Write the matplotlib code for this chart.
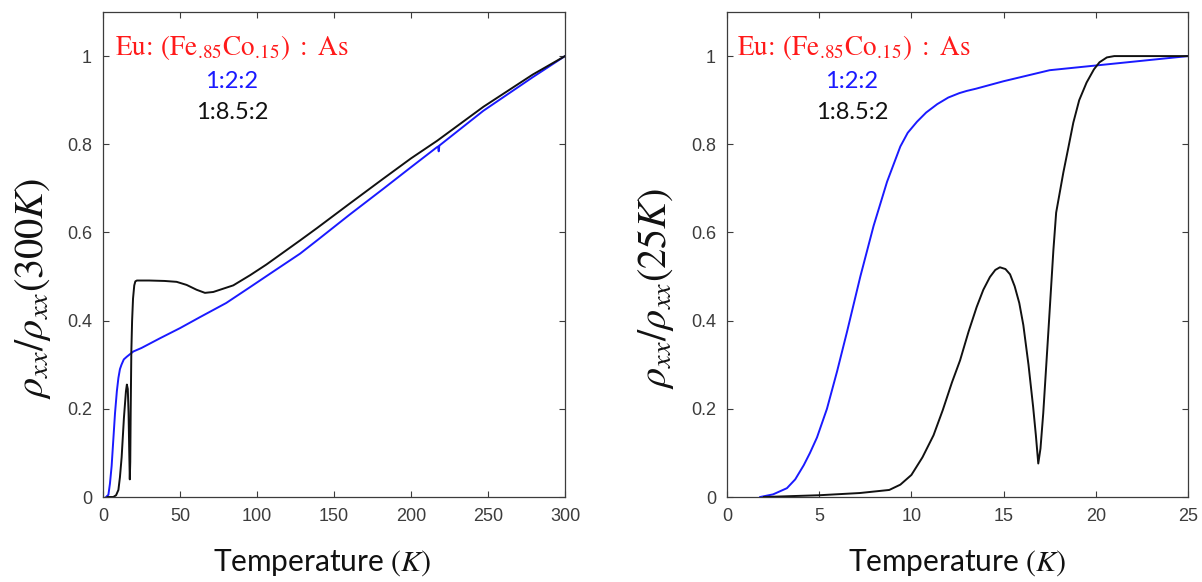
import matplotlib
matplotlib.use("Agg")
import matplotlib.pyplot as plt

plt.rcParams['mathtext.fontset'] = 'stix'

# Normalised resistivity, rho_xx / rho_xx(300 K), full temperature range
full_T_122 = [2.0, 3.5, 4.5, 5.6, 6.7, 7.8, 9.0, 10.0, 11.0, 12.0, 13.5, 15.4, 19.7, 25, 37, 50, 63,
              80, 95.5, 110, 128, 139, 160, 182, 200, 216.7, 217.6, 218.0, 218.4, 247, 279, 300]
full_R_122 = [0.0, 0.005, 0.03, 0.07, 0.13, 0.19, 0.24, 0.27, 0.29, 0.30, 0.312, 0.318, 0.33, 0.338, 0.36,
              0.383, 0.408, 0.44, 0.476, 0.51, 0.552, 0.582, 0.64, 0.699, 0.748, 0.793, 0.795, 0.784,
              0.797, 0.876, 0.952, 1.0]

full_T_1852 = [3.0, 6.7, 8.5, 10.0, 11.0, 12.1, 13.6, 14.9, 15.5, 16.1, 16.6, 17.0, 17.4, 17.7, 18.0,
               18.4, 18.9, 19.5, 20.3, 21.0, 22.0, 30, 40, 47.8, 54.3, 60.8, 66.2, 71.6, 84.6, 95.5,
               106, 128, 139, 160, 182, 200, 217, 247, 279, 300]
full_R_1852 = [0.0, 0.0, 0.004, 0.016, 0.045, 0.09, 0.18, 0.24, 0.255, 0.245, 0.19, 0.11, 0.04, 0.08,
               0.2, 0.33, 0.40, 0.45, 0.48, 0.489, 0.491, 0.491, 0.49, 0.488, 0.481, 0.47, 0.463, 0.465,
               0.48, 0.503, 0.527, 0.582, 0.61, 0.665, 0.722, 0.768, 0.808, 0.885, 0.958, 1.0]

# Normalised resistivity, rho_xx / rho_xx(25 K), low temperature range
low_T_122 = [1.8, 2.5, 3.25, 3.7, 4.16, 4.5, 4.88, 5.42, 5.97, 6.51, 7.23, 7.95, 8.68, 9.4, 9.8,
             10.3, 10.8, 11.4, 12.0, 12.6, 13.0, 13.5, 15.0, 17.5, 25.0]
low_R_122 = [0.0, 0.006, 0.02, 0.04, 0.072, 0.10, 0.135, 0.20, 0.285, 0.375, 0.50, 0.615, 0.715,
             0.795, 0.826, 0.851, 0.872, 0.891, 0.906, 0.916, 0.921, 0.926, 0.943, 0.968, 1.0]

low_T_1852 = [2.0, 3.5, 5.0, 7.2, 8.8, 9.4, 10.0, 10.6, 11.2, 11.7, 12.2, 12.64, 13.1, 13.54, 13.9,
              14.26, 14.55, 14.8, 15.1, 15.35, 15.6, 15.85, 16.07, 16.35, 16.6, 16.75, 16.88, 17.0,
              17.15, 17.42, 17.7, 17.85, 18.0, 18.24, 18.5, 18.78, 19.1, 19.5, 19.9, 20.2, 20.6,
              21.0, 25.0]
low_R_1852 = [0.0, 0.002, 0.004, 0.009, 0.016, 0.028, 0.05, 0.09, 0.14, 0.197, 0.26, 0.31, 0.375,
              0.431, 0.47, 0.499, 0.515, 0.521, 0.517, 0.505, 0.478, 0.44, 0.39, 0.30, 0.205, 0.14,
              0.076, 0.11, 0.19, 0.37, 0.56, 0.645, 0.68, 0.736, 0.79, 0.849, 0.90, 0.94, 0.97,
              0.986, 0.997, 1.0, 1.0]

x_ticks_full = [0, 50, 100, 150, 200, 250, 300]
x_ticks_low = [0, 5, 10, 15, 20, 25]
y_ticks = [0, 0.2, 0.4, 0.6, 0.8, 1.0]
y_tick_labels = ['0', '0.2', '0.4', '0.6', '0.8', '1']

title_text = r'$\mathrm{Eu\!:\,(Fe_{.\!85}Co_{.\!15})\ :\ As}$'
ratio_122 = '1:2:2'
ratio_1852 = '1:8.5:2'

BLUE = '#1a1aff'
BLACK = '#111111'
AX_COLOR = '#3c3c3c'

fig = plt.figure(figsize=(12.02, 5.82), dpi=100)
ax1 = fig.add_axes([103 / 1202, 85 / 582, 462 / 1202, 485 / 582])
ax2 = fig.add_axes([727 / 1202, 85 / 582, 461 / 1202, 485 / 582])


def style(ax, xt, xlim, ylabel, xlabel_x, ylabel_x):
    ax.set_xlim(*xlim)
    ax.set_ylim(0, 1.1)
    ax.set_xticks(xt)
    ax.set_xticklabels([str(v) for v in xt])
    ax.set_yticks(y_ticks)
    ax.set_yticklabels(y_tick_labels)
    ax.tick_params(direction='in', length=4, width=0.8, color=AX_COLOR,
                   labelcolor=AX_COLOR, labelsize=13, top=True, right=True, pad=8)
    for lab in ax.get_xticklabels() + ax.get_yticklabels():
        lab.set_fontfamily('Liberation Sans')
    for s in ax.spines.values():
        s.set_color(AX_COLOR)
        s.set_linewidth(0.9)
    ax.set_xlabel(r'Temperature $(K)$', fontsize=21.5, fontfamily='Lato', color='#111111')
    ax.xaxis.label.set_va('center')
    ax.xaxis.set_label_coords(xlabel_x, -0.136)
    ax.set_ylabel(ylabel, fontsize=29, color='#111111')
    ax.yaxis.label.set_va('center')
    ax.yaxis.set_label_coords(ylabel_x, 0.43)


ax1.plot(full_T_122, full_R_122, color=BLUE, lw=1.4)
ax1.plot(full_T_1852, full_R_1852, color=BLACK, lw=1.4)
style(ax1, x_ticks_full, (0, 300), r'$\rho_{xx}/\rho_{xx}(300K)$', 0.475, -0.152)

ax2.plot(low_T_122, low_R_122, color=BLUE, lw=1.4)
ax2.plot(low_T_1852, low_R_1852, color=BLACK, lw=1.4)
style(ax2, x_ticks_low, (0, 25), r'$\rho_{xx}/\rho_{xx}(25K)$', 0.499, -0.156)

for ax, x0, xc in [(ax1, 0.026, 0.279), (ax2, 0.022, 0.271)]:
    ax.text(x0, 0.911, title_text, transform=ax.transAxes, color='#ff1a1a',
            fontsize=19.5, ha='left', va='baseline')
    ax.text(xc, 0.856, ratio_122, transform=ax.transAxes, color=BLUE,
            fontsize=17, fontfamily='Lato', ha='center', va='center')
    ax.text(xc, 0.792, ratio_1852, transform=ax.transAxes, color='#111111',
            fontsize=17, fontfamily='Lato', ha='center', va='center')

fig.savefig('out.png', dpi=100)
